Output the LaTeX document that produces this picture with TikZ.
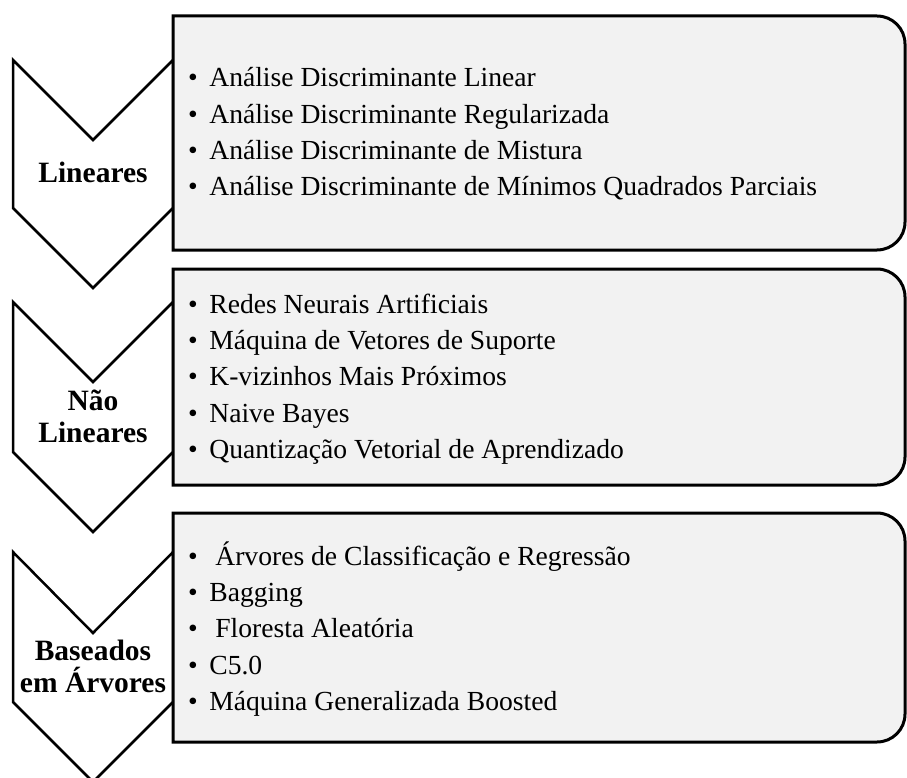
\documentclass[tikz,border=0pt]{standalone}
\usepackage{fontspec}
\setmainfont{Liberation Serif}
\usepackage{tikz}
\definecolor{boxgray}{HTML}{F2F2F2}

\begin{document}
\begin{tikzpicture}[x=1pt,y=-1pt]
    \tikzstyle{chevron}=[fill=white,draw=black,line width=2.5pt]
    \tikzstyle{catbox}=[fill=boxgray,draw=black,line width=3pt]
    \tikzstyle{catname}=[font=\fontsize{29.5}{32}\selectfont\bfseries,align=center,inner sep=0pt]
    \tikzstyle{items}=[font=\fontsize{27.6}{36.3}\selectfont,align=left,anchor=west,inner sep=0pt]

    \def\xl{13}
    \def\xm{93}
    \def\xr{173}
    \def\xe{905}
    \def\rc{28}
    \def\bul{\textbullet\hskip11.5pt}

    \useasboundingbox (0,0) rectangle (907,778);

    % Lineares
    \draw[chevron] (\xl,60) -- (\xm,140) -- (\xr,60) -- (\xr,208) -- (\xm,288) -- (\xl,208) -- cycle;
    \draw[catbox] (\xr,250) -- (\xr,16) -- (\xe-\rc,16) arc[start angle=-90,end angle=0,radius=\rc]
        -- (\xe,250-\rc) arc[start angle=0,end angle=90,radius=\rc] -- cycle;
    \node[catname] (c1) at (\xm,172) {Lineares};
    \node[items] (l1) at (188,134) {\bul Análise Discriminante Linear\\
        \bul Análise Discriminante Regularizada\\
        \bul Análise Discriminante de Mistura\\
        \bul Análise Discriminante de Mínimos Quadrados Parciais};

    % Nao Lineares
    \draw[chevron] (\xl,302) -- (\xm,382) -- (\xr,302) -- (\xr,452) -- (\xm,532) -- (\xl,452) -- cycle;
    \draw[catbox] (\xr,485) -- (\xr,269) -- (\xe-\rc,269) arc[start angle=-90,end angle=0,radius=\rc]
        -- (\xe,485-\rc) arc[start angle=0,end angle=90,radius=\rc] -- cycle;
    \node[catname] (c2) at (\xm,416) {Não\\Lineares};
    \node[items] (l2) at (188,379) {\bul Redes Neurais Artificiais\\
        \bul Máquina de Vetores de Suporte\\
        \bul K-vizinhos Mais Próximos\\
        \bul Naive Bayes\\
        \bul Quantização Vetorial de Aprendizado};

    % Baseados em Arvores
    \draw[chevron] (\xl,552) -- (\xm,633) -- (\xr,552) -- (\xr,702) -- (\xm,782) -- (\xl,702) -- cycle;
    \draw[catbox] (\xr,742) -- (\xr,513) -- (\xe-\rc,513) arc[start angle=-90,end angle=0,radius=\rc]
        -- (\xe,742-\rc) arc[start angle=0,end angle=90,radius=\rc] -- cycle;
    \node[catname] (c3) at (\xm,666) {Baseados\\em Árvores};
    \node[items] (l3) at (188,629) {\bul\hskip6pt Árvores de Classificação e Regressão\\
        \bul Bagging\\
        \bul\hskip6pt Floresta Aleatória\\
        \bul C5.0\\
        \bul Máquina Generalizada Boosted};

\end{tikzpicture}
\end{document}
